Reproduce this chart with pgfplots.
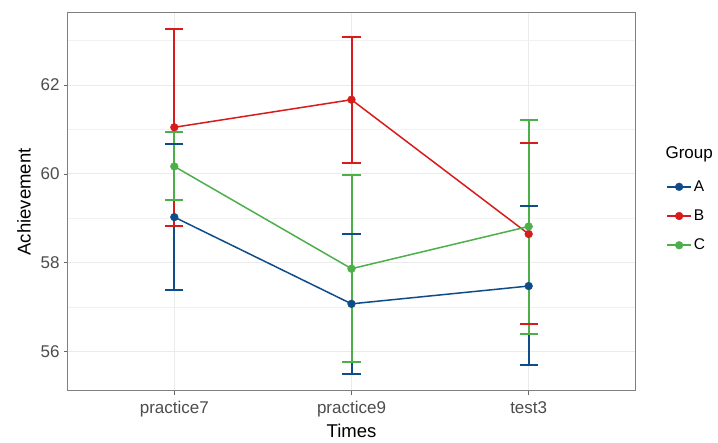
\documentclass[border=0pt]{standalone}
\usepackage{fontspec}
\setmainfont{Liberation Sans}
\usepackage{pgfplots}
\usepackage{pgfplotstable}
\pgfplotsset{compat=1.18}
\definecolor{cA}{HTML}{0F4C8A}
\definecolor{cB}{HTML}{D81B1B}
\definecolor{cC}{HTML}{4DAF4A}
\definecolor{gridc}{HTML}{EBEBEB}
% x, mean, lower, upper
\pgfplotstableread{
x y lo hi
0 59.03 57.39 60.67
1 57.08 55.51 58.66
2 57.48 55.71 59.27
}\dataA
\pgfplotstableread{
x y lo hi
0 61.05 58.84 63.26
1 61.67 60.25 63.08
2 58.65 56.63 60.69
}\dataB
\pgfplotstableread{
x y lo hi
0 60.17 59.41 60.94
1 57.87 55.77 59.98
2 58.82 56.40 61.22
}\dataC
\pgfplotsset{
  eb/.style={forget plot, #1, line width=2pt, only marks, mark=-, mark size=9pt,
    mark options={solid, line width=2pt}},
  ebv/.style={forget plot, #1, line width=2pt, mark=none},
  ser/.style={#1, line width=1.5pt, mark=*, mark size=3.9pt,
    mark options={solid, fill=#1, line width=0.4pt}},
}
\begin{document}
\begin{tikzpicture}[x=1pt,y=1pt]
\useasboundingbox (-68,-52) rectangle (650,391);
\begin{axis}[at={(0,0)}, anchor=south west, scale only axis,
  width=567pt, height=378pt,
  xmin=-0.6, xmax=2.6, ymin=55.12, ymax=63.62,
  xtick={0,1,2}, xticklabels={practice7,practice9,test3},
  ytick={56,58,60,62}, minor ytick={55,57,59,61,63},
  grid=both,
  major grid style={gridc, line width=1pt},
  minor grid style={gridc!70, line width=0.6pt},
  axis line style={black!50, line width=1pt},
  tick style={black!60, line width=0.9pt},
  major tick length=4pt, minor tick length=0pt,
  tick align=outside, tick pos=left,
  ticklabel style={font=\fontsize{17}{18}\selectfont, text=black!70},
  yticklabel style={xshift=-1pt},
  xticklabel style={yshift=-3pt},
  /pgf/number format/assume math mode=true,
  xlabel={Times}, ylabel={Achievement},
  label style={font=\fontsize{18.5}{20}\selectfont},
  ylabel style={yshift=3pt},
  legend style={at={(1.055,0.562)}, anchor=north west, draw=none, fill=none,
    font=\fontsize{15.5}{16}\selectfont, row sep=13pt, inner sep=0pt},
  legend cell align=left,
  legend image code/.code={\draw[line width=1.5pt, mark repeat=2,mark phase=2] plot coordinates {(0pt,0pt)(12pt,0pt)(24pt,0pt)};},
]
% error bars (drawn first): vertical segments and caps
\addplot[ebv=cA] coordinates {(0,57.39) (0,60.67)};
\addplot[ebv=cA] coordinates {(1,55.51) (1,58.66)};
\addplot[ebv=cA] coordinates {(2,55.71) (2,59.27)};
\addplot[eb=cA] table[x=x, y=lo] {\dataA};
\addplot[eb=cA] table[x=x, y=hi] {\dataA};
\addplot[ebv=cB] coordinates {(0,58.84) (0,63.26)};
\addplot[ebv=cB] coordinates {(1,60.25) (1,63.08)};
\addplot[ebv=cB] coordinates {(2,56.63) (2,60.69)};
\addplot[eb=cB] table[x=x, y=lo] {\dataB};
\addplot[eb=cB] table[x=x, y=hi] {\dataB};
\addplot[ebv=cC] coordinates {(0,59.41) (0,60.94)};
\addplot[ebv=cC] coordinates {(1,55.77) (1,59.98)};
\addplot[ebv=cC] coordinates {(2,56.40) (2,61.22)};
\addplot[eb=cC] table[x=x, y=lo] {\dataC};
\addplot[eb=cC] table[x=x, y=hi] {\dataC};
% series
\addplot[ser=cA] table[x=x, y=y] {\dataA};
\addlegendentry{A}
\addplot[ser=cB] table[x=x, y=y] {\dataB};
\addlegendentry{B}
\addplot[ser=cC] table[x=x, y=y] {\dataC};
\addlegendentry{C}
\end{axis}
\node[anchor=west, font=\fontsize{17}{18}\selectfont] at (594,237) {Group};
\end{tikzpicture}
\end{document}
